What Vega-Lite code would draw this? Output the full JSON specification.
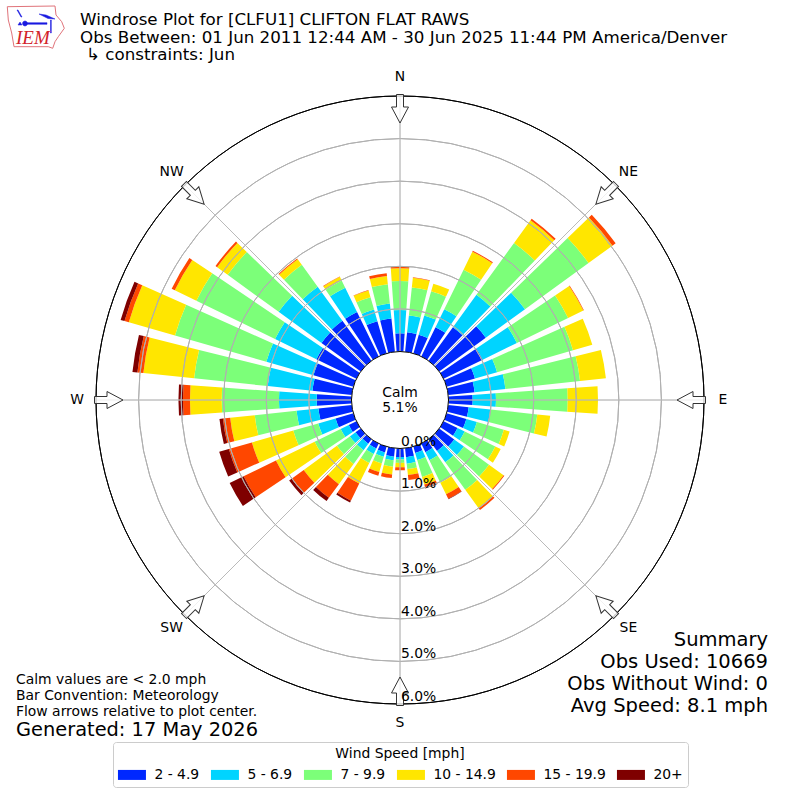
{
  "$schema": "https://vega.github.io/schema/vega-lite/v6.json",
  "description": "Windrose Plot for [CLFU1] CLIFTON FLAT RAWS",
  "width": 800,
  "height": 800,
  "autosize": {"type": "fit", "contains": "padding"},
  "padding": 0,
  "background": "white",
  "config": {"view": {"stroke": null}, "font": "DejaVu Sans"},
  "datasets": {
    "rose": [
      {"dir":0,"lo":2,"speed":"2 - 4.9","pct":0.428},{"dir":0,"lo":5,"speed":"5 - 6.9","pct":0.547},{"dir":0,"lo":7,"speed":"7 - 9.9","pct":0.681},{"dir":0,"lo":10,"speed":"10 - 14.9","pct":0.298},{"dir":0,"lo":15,"speed":"15 - 19.9","pct":0.038},
      {"dir":10,"lo":2,"speed":"2 - 4.9","pct":0.458},{"dir":10,"lo":5,"speed":"5 - 6.9","pct":0.399},{"dir":10,"lo":7,"speed":"7 - 9.9","pct":0.658},{"dir":10,"lo":10,"speed":"10 - 14.9","pct":0.235},{"dir":10,"lo":15,"speed":"15 - 19.9","pct":0.012},
      {"dir":20,"lo":2,"speed":"2 - 4.9","pct":0.458},{"dir":20,"lo":5,"speed":"5 - 6.9","pct":0.47},{"dir":20,"lo":7,"speed":"7 - 9.9","pct":0.587},{"dir":20,"lo":10,"speed":"10 - 14.9","pct":0.188},
      {"dir":30,"lo":2,"speed":"2 - 4.9","pct":0.763},{"dir":30,"lo":5,"speed":"5 - 6.9","pct":0.47},{"dir":30,"lo":7,"speed":"7 - 9.9","pct":1.034},{"dir":30,"lo":10,"speed":"10 - 14.9","pct":0.47},{"dir":30,"lo":15,"speed":"15 - 19.9","pct":0.023},
      {"dir":40,"lo":2,"speed":"2 - 4.9","pct":0.975},{"dir":40,"lo":5,"speed":"5 - 6.9","pct":0.94},{"dir":40,"lo":7,"speed":"7 - 9.9","pct":1.503},{"dir":40,"lo":10,"speed":"10 - 14.9","pct":0.658},{"dir":40,"lo":15,"speed":"15 - 19.9","pct":0.047},
      {"dir":50,"lo":2,"speed":"2 - 4.9","pct":1.351},{"dir":50,"lo":5,"speed":"5 - 6.9","pct":1.139},{"dir":50,"lo":7,"speed":"7 - 9.9","pct":1.844},{"dir":50,"lo":10,"speed":"10 - 14.9","pct":0.693},{"dir":50,"lo":15,"speed":"15 - 19.9","pct":0.094},
      {"dir":60,"lo":2,"speed":"2 - 4.9","pct":1.022},{"dir":60,"lo":5,"speed":"5 - 6.9","pct":0.893},{"dir":60,"lo":7,"speed":"7 - 9.9","pct":1.339},{"dir":60,"lo":10,"speed":"10 - 14.9","pct":0.399},{"dir":60,"lo":15,"speed":"15 - 19.9","pct":0.012},
      {"dir":70,"lo":2,"speed":"2 - 4.9","pct":0.693},{"dir":70,"lo":5,"speed":"5 - 6.9","pct":0.54},{"dir":70,"lo":7,"speed":"7 - 9.9","pct":1.856},{"dir":70,"lo":10,"speed":"10 - 14.9","pct":0.47},
      {"dir":80,"lo":2,"speed":"2 - 4.9","pct":0.622},{"dir":80,"lo":5,"speed":"5 - 6.9","pct":0.728},{"dir":80,"lo":7,"speed":"7 - 9.9","pct":1.762},{"dir":80,"lo":10,"speed":"10 - 14.9","pct":0.611},
      {"dir":90,"lo":2,"speed":"2 - 4.9","pct":0.568},{"dir":90,"lo":5,"speed":"5 - 6.9","pct":0.547},{"dir":90,"lo":7,"speed":"7 - 9.9","pct":1.684},{"dir":90,"lo":10,"speed":"10 - 14.9","pct":0.712},
      {"dir":100,"lo":2,"speed":"2 - 4.9","pct":0.482},{"dir":100,"lo":5,"speed":"5 - 6.9","pct":0.517},{"dir":100,"lo":7,"speed":"7 - 9.9","pct":1.104},{"dir":100,"lo":10,"speed":"10 - 14.9","pct":0.305},
      {"dir":110,"lo":2,"speed":"2 - 4.9","pct":0.482},{"dir":110,"lo":5,"speed":"5 - 6.9","pct":0.258},{"dir":110,"lo":7,"speed":"7 - 9.9","pct":0.658},{"dir":110,"lo":10,"speed":"10 - 14.9","pct":0.141},
      {"dir":120,"lo":2,"speed":"2 - 4.9","pct":0.364},{"dir":120,"lo":5,"speed":"5 - 6.9","pct":0.188},{"dir":120,"lo":7,"speed":"7 - 9.9","pct":0.799},{"dir":120,"lo":10,"speed":"10 - 14.9","pct":0.141},
      {"dir":130,"lo":2,"speed":"2 - 4.9","pct":0.435},{"dir":130,"lo":5,"speed":"5 - 6.9","pct":0.282},{"dir":130,"lo":7,"speed":"7 - 9.9","pct":0.728},{"dir":130,"lo":10,"speed":"10 - 14.9","pct":0.423},{"dir":130,"lo":15,"speed":"15 - 19.9","pct":0.023},
      {"dir":140,"lo":2,"speed":"2 - 4.9","pct":0.341},{"dir":140,"lo":5,"speed":"5 - 6.9","pct":0.329},{"dir":140,"lo":7,"speed":"7 - 9.9","pct":0.799},{"dir":140,"lo":10,"speed":"10 - 14.9","pct":0.54},{"dir":140,"lo":15,"speed":"15 - 19.9","pct":0.047},
      {"dir":150,"lo":2,"speed":"2 - 4.9","pct":0.223},{"dir":150,"lo":5,"speed":"5 - 6.9","pct":0.211},{"dir":150,"lo":7,"speed":"7 - 9.9","pct":0.587},{"dir":150,"lo":10,"speed":"10 - 14.9","pct":0.305},{"dir":150,"lo":15,"speed":"15 - 19.9","pct":0.117},{"dir":150,"lo":20,"speed":"20+","pct":0.012},
      {"dir":160,"lo":2,"speed":"2 - 4.9","pct":0.153},{"dir":160,"lo":5,"speed":"5 - 6.9","pct":0.176},{"dir":160,"lo":7,"speed":"7 - 9.9","pct":0.411},{"dir":160,"lo":10,"speed":"10 - 14.9","pct":0.188},{"dir":160,"lo":15,"speed":"15 - 19.9","pct":0.07},{"dir":160,"lo":20,"speed":"20+","pct":0.023},
      {"dir":170,"lo":2,"speed":"2 - 4.9","pct":0.211},{"dir":170,"lo":5,"speed":"5 - 6.9","pct":0.153},{"dir":170,"lo":7,"speed":"7 - 9.9","pct":0.129},{"dir":170,"lo":10,"speed":"10 - 14.9","pct":0.141},{"dir":170,"lo":15,"speed":"15 - 19.9","pct":0.117},
      {"dir":180,"lo":2,"speed":"2 - 4.9","pct":0.2},{"dir":180,"lo":5,"speed":"5 - 6.9","pct":0.059},{"dir":180,"lo":7,"speed":"7 - 9.9","pct":0.082},{"dir":180,"lo":10,"speed":"10 - 14.9","pct":0.101},{"dir":180,"lo":15,"speed":"15 - 19.9","pct":0.07},
      {"dir":190,"lo":2,"speed":"2 - 4.9","pct":0.2},{"dir":190,"lo":5,"speed":"5 - 6.9","pct":0.082},{"dir":190,"lo":7,"speed":"7 - 9.9","pct":0.153},{"dir":190,"lo":10,"speed":"10 - 14.9","pct":0.188},{"dir":190,"lo":15,"speed":"15 - 19.9","pct":0.082},
      {"dir":200,"lo":2,"speed":"2 - 4.9","pct":0.143},{"dir":200,"lo":5,"speed":"5 - 6.9","pct":0.103},{"dir":200,"lo":7,"speed":"7 - 9.9","pct":0.164},{"dir":200,"lo":10,"speed":"10 - 14.9","pct":0.211},{"dir":200,"lo":15,"speed":"15 - 19.9","pct":0.089},
      {"dir":210,"lo":2,"speed":"2 - 4.9","pct":0.129},{"dir":210,"lo":5,"speed":"5 - 6.9","pct":0.141},{"dir":210,"lo":7,"speed":"7 - 9.9","pct":0.235},{"dir":210,"lo":10,"speed":"10 - 14.9","pct":0.54},{"dir":210,"lo":15,"speed":"15 - 19.9","pct":0.446},{"dir":210,"lo":20,"speed":"20+","pct":0.047},
      {"dir":220,"lo":2,"speed":"2 - 4.9","pct":0.129},{"dir":220,"lo":5,"speed":"5 - 6.9","pct":0.188},{"dir":220,"lo":7,"speed":"7 - 9.9","pct":0.399},{"dir":220,"lo":10,"speed":"10 - 14.9","pct":0.587},{"dir":220,"lo":15,"speed":"15 - 19.9","pct":0.399},{"dir":220,"lo":20,"speed":"20+","pct":0.094},
      {"dir":230,"lo":2,"speed":"2 - 4.9","pct":0.153},{"dir":230,"lo":5,"speed":"5 - 6.9","pct":0.164},{"dir":230,"lo":7,"speed":"7 - 9.9","pct":0.376},{"dir":230,"lo":10,"speed":"10 - 14.9","pct":0.963},{"dir":230,"lo":15,"speed":"15 - 19.9","pct":0.352},{"dir":230,"lo":20,"speed":"20+","pct":0.07},
      {"dir":240,"lo":2,"speed":"2 - 4.9","pct":0.2},{"dir":240,"lo":5,"speed":"5 - 6.9","pct":0.211},{"dir":240,"lo":7,"speed":"7 - 9.9","pct":0.681},{"dir":240,"lo":10,"speed":"10 - 14.9","pct":1.01},{"dir":240,"lo":15,"speed":"15 - 19.9","pct":0.846},{"dir":240,"lo":20,"speed":"20+","pct":0.364},
      {"dir":250,"lo":2,"speed":"2 - 4.9","pct":0.435},{"dir":250,"lo":5,"speed":"5 - 6.9","pct":0.423},{"dir":250,"lo":7,"speed":"7 - 9.9","pct":0.611},{"dir":250,"lo":10,"speed":"10 - 14.9","pct":1.01},{"dir":250,"lo":15,"speed":"15 - 19.9","pct":0.564},{"dir":250,"lo":20,"speed":"20+","pct":0.235},
      {"dir":260,"lo":2,"speed":"2 - 4.9","pct":0.787},{"dir":260,"lo":5,"speed":"5 - 6.9","pct":0.517},{"dir":260,"lo":7,"speed":"7 - 9.9","pct":0.987},{"dir":260,"lo":10,"speed":"10 - 14.9","pct":0.58},{"dir":260,"lo":15,"speed":"15 - 19.9","pct":0.171},{"dir":260,"lo":20,"speed":"20+","pct":0.082},
      {"dir":270,"lo":2,"speed":"2 - 4.9","pct":0.817},{"dir":270,"lo":5,"speed":"5 - 6.9","pct":0.886},{"dir":270,"lo":7,"speed":"7 - 9.9","pct":1.346},{"dir":270,"lo":10,"speed":"10 - 14.9","pct":0.745},{"dir":270,"lo":15,"speed":"15 - 19.9","pct":0.164},{"dir":270,"lo":20,"speed":"20+","pct":0.106},
      {"dir":280,"lo":2,"speed":"2 - 4.9","pct":0.928},{"dir":280,"lo":5,"speed":"5 - 6.9","pct":1.057},{"dir":280,"lo":7,"speed":"7 - 9.9","pct":1.738},{"dir":280,"lo":10,"speed":"10 - 14.9","pct":1.198},{"dir":280,"lo":15,"speed":"15 - 19.9","pct":0.141},{"dir":280,"lo":20,"speed":"20+","pct":0.117},
      {"dir":290,"lo":2,"speed":"2 - 4.9","pct":0.975},{"dir":290,"lo":5,"speed":"5 - 6.9","pct":1.151},{"dir":290,"lo":7,"speed":"7 - 9.9","pct":2.232},{"dir":290,"lo":10,"speed":"10 - 14.9","pct":1.128},{"dir":290,"lo":15,"speed":"15 - 19.9","pct":0.106},{"dir":290,"lo":20,"speed":"20+","pct":0.094},
      {"dir":300,"lo":2,"speed":"2 - 4.9","pct":1.045},{"dir":300,"lo":5,"speed":"5 - 6.9","pct":1.081},{"dir":300,"lo":7,"speed":"7 - 9.9","pct":2.055},{"dir":300,"lo":10,"speed":"10 - 14.9","pct":0.564},{"dir":300,"lo":15,"speed":"15 - 19.9","pct":0.082},
      {"dir":310,"lo":2,"speed":"2 - 4.9","pct":1.139},{"dir":310,"lo":5,"speed":"5 - 6.9","pct":1.245},{"dir":310,"lo":7,"speed":"7 - 9.9","pct":1.48},{"dir":310,"lo":10,"speed":"10 - 14.9","pct":0.305},{"dir":310,"lo":15,"speed":"15 - 19.9","pct":0.047},
      {"dir":320,"lo":2,"speed":"2 - 4.9","pct":1.163},{"dir":320,"lo":5,"speed":"5 - 6.9","pct":0.987},{"dir":320,"lo":7,"speed":"7 - 9.9","pct":0.634},{"dir":320,"lo":10,"speed":"10 - 14.9","pct":0.164},{"dir":320,"lo":15,"speed":"15 - 19.9","pct":0.023},
      {"dir":330,"lo":2,"speed":"2 - 4.9","pct":1.163},{"dir":330,"lo":5,"speed":"5 - 6.9","pct":0.634},{"dir":330,"lo":7,"speed":"7 - 9.9","pct":0.188},{"dir":330,"lo":10,"speed":"10 - 14.9","pct":0.094},{"dir":330,"lo":15,"speed":"15 - 19.9","pct":0.012},
      {"dir":340,"lo":2,"speed":"2 - 4.9","pct":0.787},{"dir":340,"lo":5,"speed":"5 - 6.9","pct":0.282},{"dir":340,"lo":7,"speed":"7 - 9.9","pct":0.305},{"dir":340,"lo":10,"speed":"10 - 14.9","pct":0.164},{"dir":340,"lo":15,"speed":"15 - 19.9","pct":0.012},
      {"dir":350,"lo":2,"speed":"2 - 4.9","pct":0.787},{"dir":350,"lo":5,"speed":"5 - 6.9","pct":0.352},{"dir":350,"lo":7,"speed":"7 - 9.9","pct":0.458},{"dir":350,"lo":10,"speed":"10 - 14.9","pct":0.19},{"dir":350,"lo":15,"speed":"15 - 19.9","pct":0.068}
    ],
    "compass": [
      {"dir":0,"name":"N"},{"dir":45,"name":"NE"},{"dir":90,"name":"E"},{"dir":135,"name":"SE"},
      {"dir":180,"name":"S"},{"dir":225,"name":"SW"},{"dir":270,"name":"W"},{"dir":315,"name":"NW"}
    ],
    "rings": [
      {"pct":0,"label":"0.0%"},{"pct":1,"label":"1.0%"},{"pct":2,"label":"2.0%"},{"pct":3,"label":"3.0%"},
      {"pct":4,"label":"4.0%"},{"pct":5,"label":"5.0%"},{"pct":6,"label":"6.0%"}
    ]
  },
  "resolve": {"scale": {"theta": "independent"}},
  "layer": [
    {
      "data": {"name": "rose"},
      "transform": [
        {"stack": "pct", "groupby": ["dir"], "sort": [{"field": "lo"}], "as": ["pct0", "pct1"]}
      ],
      "mark": {"type": "arc"},
      "encoding": {
        "theta": {
          "field": "dir", "type": "ordinal",
          "scale": {
            "type": "band",
            "domain": [0,10,20,30,40,50,60,70,80,90,100,110,120,130,140,150,160,170,180,190,200,210,220,230,240,250,260,270,280,290,300,310,320,330,340,350],
            "range": [-0.08727, 6.19592],
            "paddingInner": 0.2,
            "paddingOuter": 0.1
          }
        },
        "radius": {"field": "pct1", "type": "quantitative", "scale": {"domain": [0, 6], "range": [48.5, 304], "zero": false, "nice": false}},
        "radius2": {"field": "pct0"},
        "color": {
          "field": "speed", "type": "nominal",
          "scale": {
            "domain": ["2 - 4.9", "5 - 6.9", "7 - 9.9", "10 - 14.9", "15 - 19.9", "20+"],
            "range": ["#0028ff", "#00d4ff", "#7cff79", "#ffe600", "#ff4700", "#7f0000"]
          },
          "legend": {
            "title": "Wind Speed [mph]",
            "orient": "none", "legendX": 113, "legendY": 742,
            "direction": "horizontal", "columns": 6, "columnPadding": 10,
            "titleAnchor": "middle", "titleFontSize": 13.9, "titleFontWeight": "normal", "titleColor": "black", "titleLimit": 400, "titlePadding": 7,
            "labelFontSize": 13.9, "labelColor": "black", "labelOffset": 15.5,
            "symbolType": "M-2.8,-1H2.8V1H-2.8Z", "symbolSize": 100, "symbolStrokeWidth": 0, "symbolOffset": 7,
            "strokeColor": "#cccccc", "cornerRadius": 3, "padding": 5, "fillColor": "white"
          }
        }
      }
    },
    {
      "data": {"name": "rings"},
      "transform": [{"filter": "datum.pct > 0 && datum.pct < 6"}],
      "mark": {"type": "arc", "theta": 0, "theta2": 6.2832, "fillOpacity": 0, "stroke": "#b0b0b0", "strokeWidth": 1},
      "encoding": {
        "radius": {"field": "pct", "type": "quantitative"},
        "radius2": {"field": "pct"}
      }
    },
    {
      "data": {"name": "compass"},
      "mark": {"type": "arc", "fillOpacity": 0, "stroke": "#b8b8b8", "strokeWidth": 0.8},
      "encoding": {
        "theta": {"field": "dir", "type": "quantitative", "scale": {"domain": [0, 360], "zero": false, "nice": false}},
        "theta2": {"field": "dir"},
        "radius": {"datum": 0, "type": "quantitative"},
        "radius2": {"datum": 6}
      }
    },
    {
      "data": {"name": "rings"},
      "transform": [{"filter": "datum.pct == 6"}],
      "mark": {"type": "arc", "theta": 0, "theta2": 6.2832, "fillOpacity": 0, "stroke": "black", "strokeWidth": 1},
      "encoding": {
        "radius": {"field": "pct", "type": "quantitative"},
        "radius2": {"field": "pct"}
      }
    },
    {
      "data": {"values": [{"label": "hub"}]},
      "mark": {"type": "arc", "theta": 0, "theta2": 6.2832, "innerRadius": 0, "outerRadius": 48.5, "fill": "white", "stroke": "black", "strokeWidth": 1}
    },
    {
      "data": {"name": "compass"},
      "mark": {
        "type": "point", "filled": true, "size": 4, "fill": "white", "fillOpacity": 0.8, "stroke": "#333333", "strokeWidth": 1, "opacity": 1,
        "shape": "M-3.5,-305.5H3.5V-293H8.5L0,-277L-8.5,-293H-3.5Z"
      },
      "encoding": {"angle": {"field": "dir", "type": "quantitative", "scale": null}}
    },
    {
      "data": {"name": "compass"},
      "mark": {"type": "text", "fontSize": 13.9, "color": "black", "radius": 323},
      "encoding": {
        "theta": {"field": "dir", "type": "quantitative", "scale": {"domain": [0, 360], "zero": false, "nice": false}},
        "text": {"field": "name"}
      }
    },
    {
      "data": {"name": "rings"},
      "mark": {"type": "text", "fontSize": 13.9, "color": "black", "align": "left", "baseline": "bottom", "theta": 3.14159, "dx": 1},
      "encoding": {
        "radius": {"field": "pct", "type": "quantitative"},
        "text": {"field": "label"}
      }
    },
    {
      "data": {"values": [{"label": "calm"}]},
      "mark": {"type": "text", "fontSize": 13.9, "color": "black", "align": "center", "baseline": "middle", "lineHeight": 15, "x": 400, "y": 393, "text": ["Calm", "5.1%"]}
    },
    {
      "data": {"values": [{"label": "title"}]},
      "mark": {"type": "text", "fontSize": 16.7, "color": "black", "align": "left", "baseline": "middle", "lineHeight": 17.5, "x": 80, "y": 20, "text": ["Windrose Plot for [CLFU1] CLIFTON FLAT RAWS", "Obs Between: 01 Jun 2011 12:44 AM - 30 Jun 2025 11:44 PM America/Denver"]}
    },
    {
      "data": {"values": [{"label": "constraints"}]},
      "mark": {"type": "text", "fontSize": 16.7, "color": "black", "align": "left", "baseline": "middle", "x": 86, "y": 55, "text": "↳ constraints: Jun"}
    },
    {
      "data": {"values": [{"label": "notes"}]},
      "mark": {"type": "text", "fontSize": 13.9, "color": "black", "align": "left", "baseline": "middle", "lineHeight": 16, "x": 16, "y": 680, "text": ["Calm values are < 2.0 mph", "Bar Convention: Meteorology", "Flow arrows relative to plot center."]}
    },
    {
      "data": {"values": [{"label": "generated"}]},
      "mark": {"type": "text", "fontSize": 19.4, "color": "black", "align": "left", "baseline": "middle", "x": 16, "y": 730, "text": "Generated: 17 May 2026"}
    },
    {
      "data": {"values": [{"label": "summary"}]},
      "mark": {"type": "text", "fontSize": 19.5, "color": "black", "align": "right", "baseline": "middle", "lineHeight": 22, "x": 768, "y": 640, "text": ["Summary", "Obs Used: 10669", "Obs Without Wind: 0", "Avg Speed: 8.1 mph"]}
    },
    {
      "data": {"values": [{"label": "logo outline"}]},
      "mark": {
        "type": "point", "size": 4, "fillOpacity": 0, "stroke": "#e0737a", "strokeWidth": 1, "opacity": 1,
        "shape": "M-392.7,-393.3L-345,-394L-344,-385L-338.3,-378.3L-335.7,-371.7L-341.7,-363.3L-345,-358.3L-347.3,-351.7L-351.7,-353.3L-386,-353.3L-388.3,-367L-391.7,-380Z"
      }
    },
    {
      "data": {"values": [{"label": "logo barb"}]},
      "mark": {
        "type": "point", "size": 4, "filled": true, "fill": "#1a1ae0", "stroke": "#1a1ae0", "strokeWidth": 0.5, "opacity": 1,
        "shape": "M-375,-377.3L-353,-377.3L-353,-375.7L-375,-375.7ZM-377.5,-376.5A2.5,2.5,0,1,1,-372.5,-376.5A2.5,2.5,0,1,1,-377.5,-376.5ZM-361,-386L-352,-381.5L-345,-381L-354,-385ZM-349.5,-380L-348.7,-380L-348.7,-367L-349.5,-367ZM-383,-390L-382,-390L-378,-383L-379,-383ZM-382,-375L-378,-375L-380,-378Z"
      }
    },
    {
      "data": {"values": [{"label": "logo text"}]},
      "mark": {"type": "text", "font": "Liberation Serif", "fontStyle": "italic", "fontSize": 19, "color": "#d2232a", "align": "left", "baseline": "alphabetic", "x": 16, "y": 44, "text": "IEM"}
    }
  ]
}
